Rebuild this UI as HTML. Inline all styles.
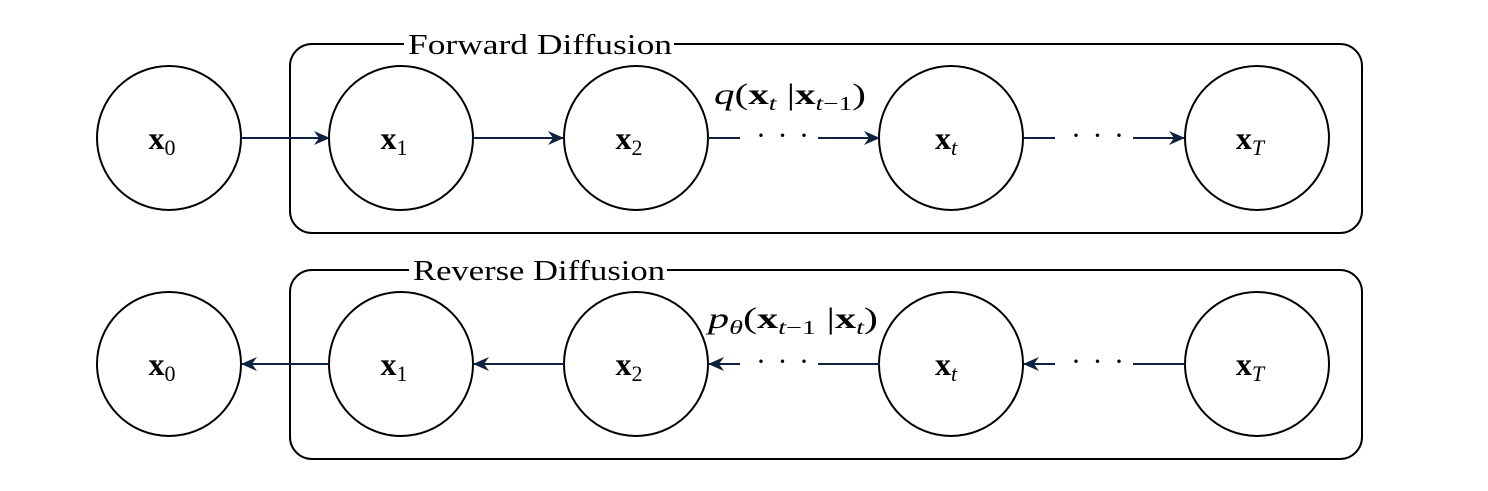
<!DOCTYPE html>
<html><head><style>
body{margin:0;background:#fff;}
svg text{font-family:"Liberation Serif",serif;fill:#000;}
</style></head><body>
<svg width="1488" height="486" viewBox="0 0 1488 486" xmlns="http://www.w3.org/2000/svg">
<defs>
<marker id="a" markerWidth="16" markerHeight="14" refX="15" refY="7" orient="auto" markerUnits="userSpaceOnUse">
<path d="M0,0 L16,7 L0,14 L5,7 Z" fill="#0d2240"/></marker>
</defs>
<g fill="none" stroke="#000" stroke-width="2">
<rect x="290" y="44" width="1072" height="189" rx="22"/>
<rect x="290" y="270" width="1072" height="189" rx="22"/>
</g>
<rect x="404" y="28" width="270" height="30" fill="#fff"/>
<rect x="409" y="254" width="258" height="30" fill="#fff"/>
<text x="408" y="54" font-size="28" textLength="264" lengthAdjust="spacingAndGlyphs">Forward Diffusion</text>
<text x="413" y="280" font-size="28" textLength="252" lengthAdjust="spacingAndGlyphs">Reverse Diffusion</text>
<g fill="#fff" stroke="#000" stroke-width="2">
<ellipse cx="169" cy="138" rx="72" ry="72"/><ellipse cx="401" cy="138" rx="72" ry="72"/>
<ellipse cx="636" cy="138" rx="72" ry="72"/><ellipse cx="951" cy="138" rx="72" ry="72"/>
<ellipse cx="1257" cy="138" rx="72" ry="72"/>
<ellipse cx="169" cy="364" rx="72" ry="72"/><ellipse cx="401" cy="364" rx="72" ry="72"/>
<ellipse cx="636" cy="364" rx="72" ry="72"/><ellipse cx="951" cy="364" rx="72" ry="72"/>
<ellipse cx="1257" cy="364" rx="72" ry="72"/>
</g>
<g stroke="#0d2240" stroke-width="2" fill="none">
<line x1="241" y1="138" x2="329" y2="138" marker-end="url(#a)"/>
<line x1="473" y1="138" x2="563" y2="138" marker-end="url(#a)"/>
<line x1="708" y1="138" x2="740" y2="138"/>
<line x1="818" y1="138" x2="879" y2="138" marker-end="url(#a)"/>
<line x1="1023" y1="138" x2="1055" y2="138"/>
<line x1="1133" y1="138" x2="1184" y2="138" marker-end="url(#a)"/>
<line x1="329" y1="364" x2="242" y2="364" marker-end="url(#a)"/>
<line x1="564" y1="364" x2="474" y2="364" marker-end="url(#a)"/>
<line x1="880" y1="364" x2="818" y2="364"/>
<line x1="740" y1="364" x2="709" y2="364" marker-end="url(#a)"/>
<line x1="1185" y1="364" x2="1133" y2="364"/>
<line x1="1055" y1="364" x2="1024" y2="364" marker-end="url(#a)"/>
</g>
<g font-size="32" font-weight="bold" text-anchor="middle">
<text x="162" y="149">x<tspan font-weight="normal" font-size="22" dy="6">0</tspan></text>
<text x="394" y="149">x<tspan font-weight="normal" font-size="22" dy="6">1</tspan></text>
<text x="629" y="149">x<tspan font-weight="normal" font-size="22" dy="6">2</tspan></text>
<text x="946" y="149">x<tspan font-weight="normal" font-style="italic" font-size="22" dy="6">t</tspan></text>
<text x="1250" y="149">x<tspan font-weight="normal" font-style="italic" font-size="22" dy="6">T</tspan></text>
<text x="162" y="375">x<tspan font-weight="normal" font-size="22" dy="6">0</tspan></text>
<text x="394" y="375">x<tspan font-weight="normal" font-size="22" dy="6">1</tspan></text>
<text x="629" y="375">x<tspan font-weight="normal" font-size="22" dy="6">2</tspan></text>
<text x="946" y="375">x<tspan font-weight="normal" font-style="italic" font-size="22" dy="6">t</tspan></text>
<text x="1250" y="375">x<tspan font-weight="normal" font-style="italic" font-size="22" dy="6">T</tspan></text>
</g>
<g font-size="30">
<text x="756" y="145" letter-spacing="2">· · ·</text><text x="1071" y="145" letter-spacing="2">· · ·</text>
<text x="756" y="371" letter-spacing="2">· · ·</text><text x="1071" y="371" letter-spacing="2">· · ·</text>
</g>
<text x="714" y="104" font-size="30" textLength="152" lengthAdjust="spacingAndGlyphs"><tspan font-style="italic">q</tspan>(<tspan font-weight="bold">x</tspan><tspan font-size="20" font-style="italic" dy="6">t</tspan><tspan dy="-6"> |</tspan><tspan font-weight="bold">x</tspan><tspan font-size="20" dy="6"><tspan font-style="italic">t</tspan>−1</tspan><tspan dy="-6">)</tspan></text>
<text x="708" y="328" font-size="30" textLength="170" lengthAdjust="spacingAndGlyphs"><tspan font-style="italic">p</tspan><tspan font-size="20" font-style="italic" dy="6">θ</tspan><tspan dy="-6">(</tspan><tspan font-weight="bold">x</tspan><tspan font-size="20" dy="6"><tspan font-style="italic">t</tspan>−1</tspan><tspan dy="-6"> |</tspan><tspan font-weight="bold">x</tspan><tspan font-size="20" font-style="italic" dy="6">t</tspan><tspan dy="-6">)</tspan></text>
</svg>
</body></html>
